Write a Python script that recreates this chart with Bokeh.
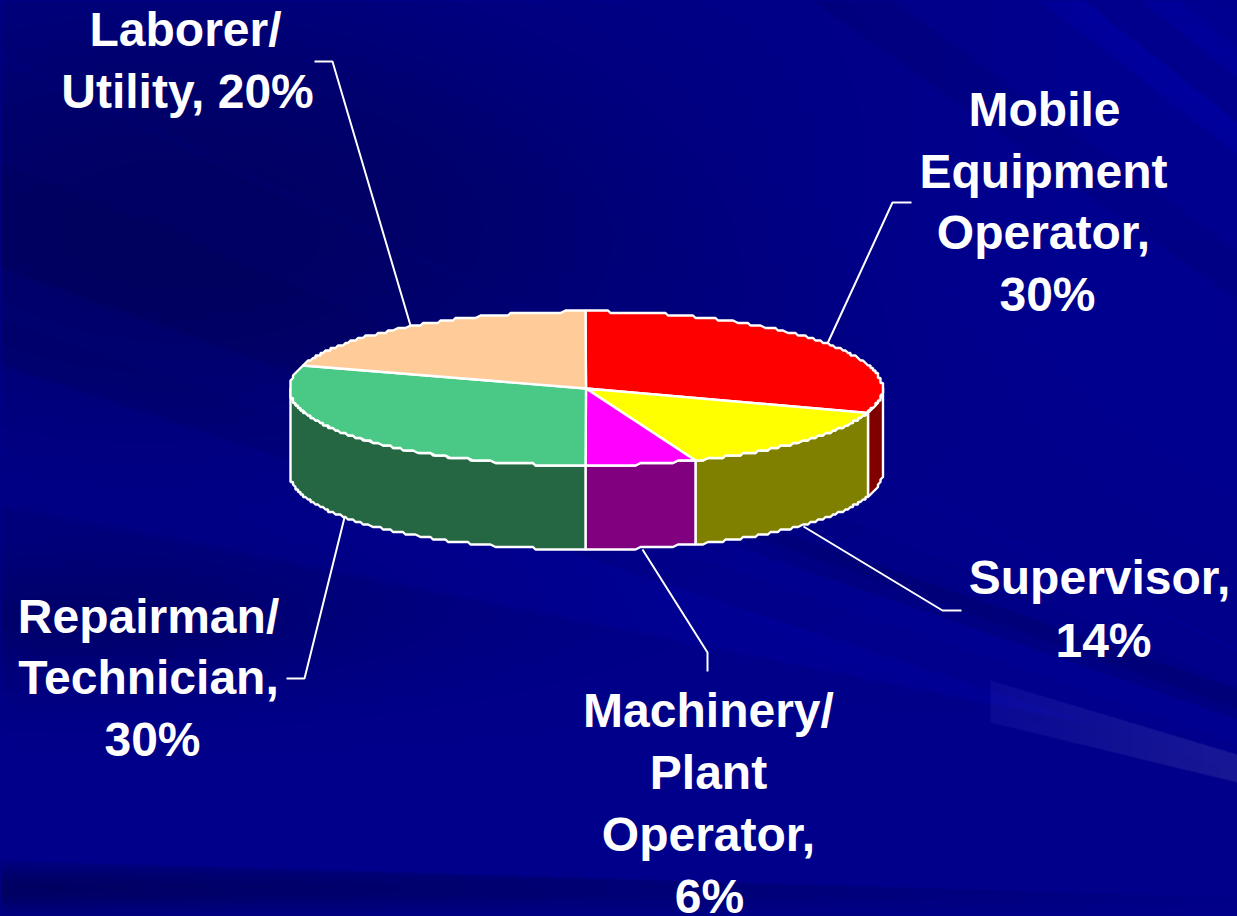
import numpy as np
from bokeh.plotting import figure
from bokeh.models import Range1d
from bokeh.core.properties import value
from bokeh.embed import file_html
from bokeh.resources import INLINE

# ---- chart data ----
categories = ["Mobile Equipment Operator", "Supervisor", "Machinery/Plant Operator",
              "Repairman/Technician", "Laborer/Utility"]
shares = [30, 14, 6, 30, 20]
top_colors = ["#ff0000", "#ffff00", "#ff00ff", "#4ac986", "#ffcc99"]
wall_colors = ["#800000", "#808000", "#800080", "#256643", "#806650"]
label_lines = [
    ["Mobile", "Equipment", "Operator,", "30%"],
    ["Supervisor,", "14%"],
    ["Machinery/", "Plant", "Operator,", "6%"],
    ["Repairman/", "Technician,", "30%"],
    ["Laborer/", "Utility, 20%"],
]

# ---- layout (pixels of the page) ----
W, H = 1237, 916
CX, CY, RX, RY, DEPTH = 585.5, 388.0, 296.5, 77.0, 84.0
label_x = [[1044, 1043, 1043, 1047], [1099, 1103], [708, 708, 708, 709], [148, 148, 152], [185, 187]]
label_y = [[109, 171, 232, 294], [577, 640], [710, 772, 834, 896], [616, 677, 739], [29, 91]]
leaders = [
    ([911, 892, 827], [202, 202, 343]),
    ([961, 942, 803], [610, 610, 526]),
    ([707, 707, 642], [671, 652, 549]),
    ([286, 304, 344], [678, 678, 517]),
    ([314, 332, 410], [61, 61, 325]),
]


def background():
    yy, xx = np.mgrid[0:H, 0:W]
    xx = xx + 0.5
    yy = yy + 0.5
    b = 140.0 * np.ones_like(xx)
    b -= 42 * np.exp(-(((xx - 180) / 520) ** 2 + ((yy - 230) / 260) ** 2))
    b -= 26 * np.exp(-(((xx - 60) / 330) ** 2 + ((yy - 620) / 70) ** 2))
    b += 6 * np.exp(-(((xx - 1150) / 220) ** 2 + ((yy - 110) / 220) ** 2))
    # dark strip along the bottom, fading to the right
    edge = 860 + 0.03 * xx
    strip = (yy > edge) * np.exp(-((yy - 888) / 24) ** 2) * np.clip(1 - xx / 1400, 0, 1)
    b -= 42 * strip
    # streaks: a family of straight lines y = A + m(A) * x that fan out
    A_knots = [-1300, -880, -300, 57, 165, 255, 363, 505, 860, 950]
    m_knots = [0.85, 0.80, 0.62, 0.48, 0.42, 0.36, 0.33, 0.20, 0.03, 0.02]
    A_dense = np.linspace(-1300, 950, 1500)
    m_dense = np.interp(A_dense, A_knots, m_knots)
    A = np.zeros_like(xx)
    for col in range(W):
        ys = A_dense + m_dense * (col + 0.5)
        A[:, col] = np.interp(yy[:, col], ys, A_dense)
    stops = [-1300, -955, -950, -920, -915, -862, -858, -810, -805, -652, -648, -575, -570, -300, -100,
             50, 53, 60, 63, 160, 165, 265, 270, 318, 322, 362, 367, 500, 510, 900]
    delta = [0, 0, 9, 9, -3, -3, 13, 9, -1, -1, -9, -9, 0, 3, 0,
             0, 4, 4, 0, 0, -4, -4, 5, 5, 1, 1, 10, 8, -2, 0]
    b += np.interp(A, stops, delta)
    # darker stripe on the right below the pie
    stripe = ((yy > 262 + 0.345 * xx) & (yy < 292 + 0.345 * xx)) * np.clip((xx - 640) / 200, 0, 1)
    b -= 14 * stripe
    # faint pale band lower right
    m = (xx > 990) & (yy > 680 + 0.30 * (xx - 990)) & (yy < 722 + 0.243 * (xx - 990))
    r = np.zeros_like(b)
    g = np.zeros_like(b)
    r[m] = 10 + 14 * (xx[m] - 990) / 247
    g[m] = 10 + 14 * (xx[m] - 990) / 247
    b[m] += 10
    img = np.zeros((H, W), dtype=np.uint32)
    view = img.view(dtype=np.uint8).reshape((H, W, 4))
    view[..., 0] = np.clip(r, 0, 255)
    view[..., 1] = np.clip(g, 0, 255)
    view[..., 2] = np.clip(b, 0, 255)
    view[..., 3] = 255
    return img


p = figure(width=W, height=H, x_range=Range1d(0, W), y_range=Range1d(H, 0),
           output_backend="svg", toolbar_location=None, min_border=0)
p.axis.visible = False
p.grid.visible = False
p.outline_line_color = None
p.background_fill_color = "#00008b"
p.border_fill_color = "#00008b"

p.image_rgba(image=[background()], x=0, y=0, dw=W, dh=H)


def rim(a0, a1):
    n = max(2, int((a1 - a0) / 0.8))
    return np.linspace(a0, a1, n)


def stair(v):
    # the original's rim is a coarse stepped outline
    return np.round(np.asarray(v) / 2.5) * 2.5


fractions = np.array(shares, dtype=float) / sum(shares)
ends = np.cumsum(fractions) * 360.0
starts = ends - fractions * 360.0

for s, e, c in zip(starts, ends, wall_colors):
    lo, hi = max(s, 90.0), min(e, 270.0)
    if lo >= hi:
        continue
    a = np.radians(rim(lo, hi))
    x = stair(CX + RX * np.sin(a))
    y = stair(CY - RY * np.cos(a))
    p.patch(np.r_[x, x[::-1]], np.r_[y, (y + DEPTH)[::-1]], fill_color=c,
            line_color="white", line_width=2.4)

for s, e, c in zip(starts, ends, top_colors):
    a = np.radians(rim(s, e))
    x = np.r_[CX, stair(CX + RX * np.sin(a))]
    y = np.r_[CY, stair(CY - RY * np.cos(a))]
    p.patch(x, y, fill_color=c, line_color="white", line_width=2.4)

for lx, ly in leaders:
    p.line(lx, ly, line_color="white", line_width=2)

for lines, xs, ys in zip(label_lines, label_x, label_y):
    p.text(xs, ys, text=lines, text_color="white", text_font=value("Liberation Sans"),
           text_font_style="bold", text_font_size="48px", text_align="center",
           text_baseline="alphabetic")

html = file_html(p, INLINE)
html = html.replace("<head>", "<head><style>html,body{margin:0;padding:0;background:#00008b;overflow:hidden}</style>", 1)
open("out.html", "w").write(html)
